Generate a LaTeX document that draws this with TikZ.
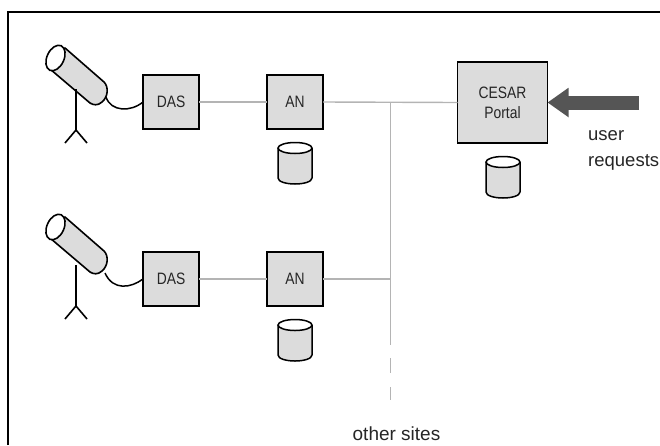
\documentclass[tikz,border=0pt]{standalone}
\usepackage{fontspec}
\setmainfont{Liberation Sans}
\newfontfamily\tallfont[FakeStretch=0.84]{Liberation Sans}
\usetikzlibrary{arrows.meta}
\definecolor{boxfill}{HTML}{DCDCDC}
\definecolor{linkgray}{HTML}{B4B4B4}
\definecolor{arrowgray}{HTML}{555555}
\definecolor{inktext}{HTML}{262626}
\tikzset{
  x=1pt,y=-1pt,
  box/.style={draw=black,fill=boxfill,line width=1.8pt,inner sep=0pt,outer sep=0pt,font=\tallfont\fontsize{16.5}{20}\selectfont,text=inktext,align=center},
  link/.style={draw=linkgray,line width=1.4pt},
  cable/.style={draw=black,line width=1.5pt},
  label/.style={font=\fontsize{18.5}{26}\selectfont,text=inktext,align=left,inner sep=0pt},
  disk/.pic={
    \draw[line width=1.5pt,fill=boxfill,line join=round] (-17,0) -- (-17,30)
      .. controls (-17,34) and (-8,36) .. (0,36)
      .. controls (8,36) and (17,34) .. (17,30) -- (17,0);
    \draw[line width=1.5pt,fill=white] (0,0) ellipse [x radius=17,y radius=5.5];
  },
  tube/.pic={
    \draw[line width=1.6pt,fill=boxfill,line join=round]
      (65,48) -- (104,82) .. controls (109,87) and (108,97) .. (102,102)
      .. controls (98,106) and (93,105) .. (90,103) -- (50,69) -- cycle;
    \draw[line width=1.6pt,fill=white] (55.5,58) ellipse [x radius=8.5,y radius=13.5,rotate=-25];
  },
  stand/.pic={
    \draw[line width=1.6pt,line join=round] (76,89) -- (76,130) (65,143) -- (76,130) -- (87,143);
  }
}
\begin{document}
\begin{tikzpicture}
\useasboundingbox (0,0) rectangle (660,445);
\coordinate (fb) at (8,445);
\coordinate (ft) at (8,12);
\coordinate (fr) at (660,12);
\draw[line width=1.8pt] (fb) -- (ft) -- (fr);

\node[box,minimum width=56pt,minimum height=54pt] (das1) at (171,102) {DAS};
\node[box,minimum width=56pt,minimum height=54pt] (an1) at (295,102) {AN};
\node[box,minimum width=56pt,minimum height=54pt] (das2) at (171,279) {DAS};
\node[box,minimum width=56pt,minimum height=54pt] (an2) at (295,279) {AN};
\node[box,minimum width=90pt,minimum height=81pt] (portal) at (502.5,102.5) {CESAR\\Portal};

\pic at (295,148) {disk};
\pic at (295,325) {disk};
\pic at (503,162) {disk};

\pic at (0,0) {tube};
\pic at (0,0) {stand};
\pic at (0,169) {tube};
\pic at (0,176) {stand};

\coordinate (c1) at (106,97);
\coordinate (c2) at (105,273);
\draw[cable] (c1) .. controls (111,112) and (131,112) .. (das1.west);
\draw[cable] (c2) .. controls (113,291) and (131,288) .. (das2.west);

\coordinate (j1) at (390.5,102.5);
\coordinate (j2) at (390.5,279);
\coordinate (v1) at (390.5,345);
\coordinate (d1a) at (390.5,358);
\coordinate (d1b) at (390.5,373);
\coordinate (d2a) at (390.5,387);
\coordinate (d2b) at (390.5,400);
\draw[link] (das1) -- (an1);
\draw[link] (das2) -- (an2);
\draw[link] (an1.east) -- (portal.west);
\draw[link] (an2) -- (j2);
\draw[link] (j1) -- (v1);
\draw[link] (d1a) -- (d1b);
\draw[link] (d2a) -- (d2b);

\coordinate (req) at (639,102.5);
\draw[draw=arrowgray,line width=14pt,-{Triangle[width=28pt,length=21pt]}] (req) -- (portal.east);

\node[label,anchor=west] (ureq) at (588,150) {user\\requests};
\node[label,anchor=base,font=\fontsize{19}{22}\selectfont] (others) at (396.5,440.5) {other sites};
\end{tikzpicture}
\end{document}
